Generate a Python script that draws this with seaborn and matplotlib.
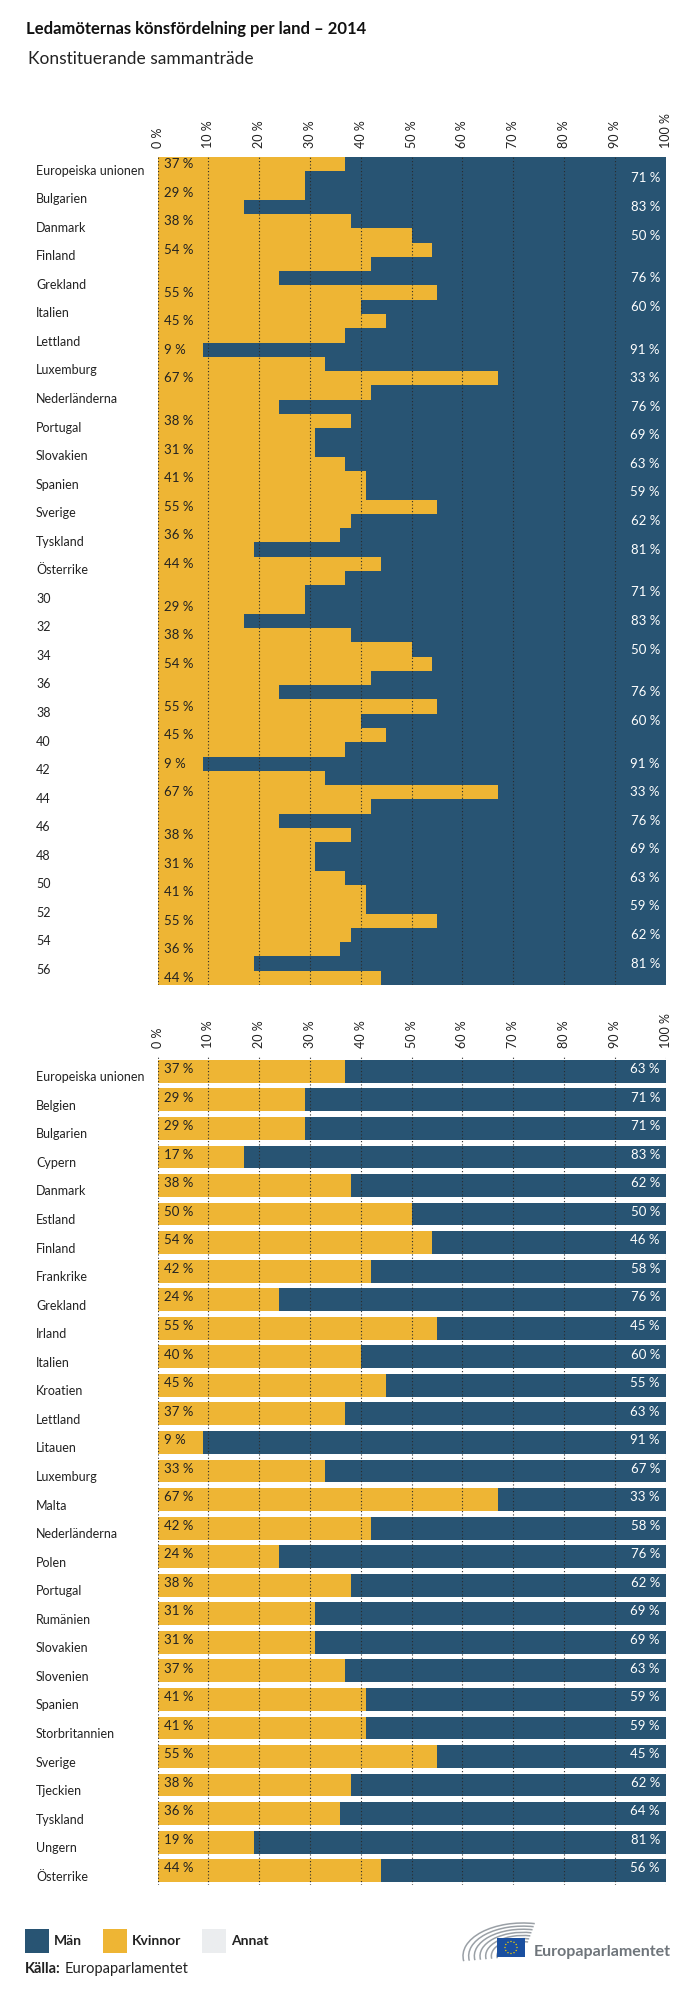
import numpy as np
import pandas as pd
import seaborn as sns
import matplotlib
matplotlib.use("Agg")
import matplotlib.pyplot as plt
from matplotlib.patches import Rectangle, Arc, Circle

# ---- data -------------------------------------------------------------
countries = ["Europeiska unionen", "Belgien", "Bulgarien", "Cypern", "Danmark",
             "Estland", "Finland", "Frankrike", "Grekland", "Irland", "Italien",
             "Kroatien", "Lettland", "Litauen", "Luxemburg", "Malta",
             "Nederländerna", "Polen", "Portugal", "Rumänien", "Slovakien",
             "Slovenien", "Spanien", "Storbritannien", "Sverige", "Tjeckien",
             "Tyskland", "Ungern", "Österrike"]
women = [37, 29, 29, 17, 38, 50, 54, 42, 24, 55, 40, 45, 37, 9, 33, 67, 42, 24,
         38, 31, 31, 37, 41, 41, 55, 38, 36, 19, 44]
men = [63, 71, 71, 83, 62, 50, 46, 58, 76, 45, 60, 55, 63, 91, 67, 33, 58, 76,
       62, 69, 69, 63, 59, 59, 45, 62, 64, 81, 56]
other = [0] * len(countries)

# rows of the upper (constituent session) frame that carry a value label
top_women_rows = [0, 2, 4, 6, 9, 11, 13, 15, 18, 20, 22, 24, 26, 28]
top_men_rows = [1, 3, 5, 8, 10, 13, 15, 17, 19, 21, 23, 25, 27]

BLUE = "#285473"
YELLOW = "#eeb534"
GREY = "#ebedef"
INK = "#222222"

sns.set_style("white")
plt.rcParams["font.family"] = ["Lato", "DejaVu Sans"]

W, H = 700, 1993
fig = plt.figure(figsize=(W / 100, H / 100), dpi=100)


def box(top, bottom, left=157.5, right=665.5):
    return [left / W, 1 - bottom / H, (right - left) / W, (bottom - top) / H]


n = len(countries)
top = pd.DataFrame({"row": countries + [str(i) for i in range(n, 2 * n)],
                    "women": women * 2, "men": men * 2, "other": other * 2})
low = pd.DataFrame({"row": countries, "women": women, "men": men, "other": other})
for df in (top, low):
    df["wm"] = df.women + df.men
    df["total"] = df.wm + df.other


def stacked(ax, df, width):
    for col, c in (("total", GREY), ("wm", BLUE), ("women", YELLOW)):
        sns.barplot(data=df, x=col, y="row", orient="h", color=c, saturation=1,
                    width=width, errorbar=None, linewidth=0, antialiased=False, ax=ax)
    nrows = len(df)
    ax.set_xlim(0, 100)
    ax.set_ylim(nrows - 0.5, -0.5)
    ax.set_xlabel("")
    ax.set_ylabel("")
    ax.xaxis.tick_top()
    ax.set_xticks(range(0, 101, 10))
    ax.set_xticklabels([f"{v} %" for v in range(0, 101, 10)], rotation=90,
                       fontsize=9, color=INK)
    ax.tick_params(axis="x", length=0, pad=6.5, labeltop=True, labelbottom=False)
    ax.set_yticks([])
    ax.grid(axis="x", color="#2b2b2b", linestyle=(0, (1, 2)), linewidth=0.8)
    ax.set_axisbelow(False)
    for s in ax.spines.values():
        s.set_visible(False)


ax1 = fig.add_axes(box(157, 985))
stacked(ax1, top, 1.0)
ax2 = fig.add_axes(box(1057, 1885))
stacked(ax2, low, 0.8)

LBLX = (36 - 157.5) / 508

# upper frame: labels on every other row
t1 = ax1.get_yaxis_transform()
for k in range(0, 2 * n, 2):
    ax1.text(LBLX, k + 0.45, top.row[k], transform=t1, ha="left", va="center",
             fontsize=9, color=INK)
for r in top_women_rows + [r + n for r in top_women_rows if r > 0]:
    ax1.text(1.2, r, f"{top.women[r]} %", ha="left", va="center", fontsize=9.5, color=INK)
for r in top_men_rows + [r + n for r in top_men_rows]:
    ax1.text(98.9, r, f"{top.men[r]} %", ha="right", va="center", fontsize=9.5, color="white")

# lower chart
t2 = ax2.get_yaxis_transform()
for i in range(n):
    ax2.text(LBLX, i + 0.21, countries[i], transform=t2, ha="left", va="center",
             fontsize=9, color=INK)
    ax2.text(1.2, i - 0.08, f"{women[i]} %", ha="left", va="center", fontsize=9.5, color=INK)
    ax2.text(98.9, i - 0.08, f"{men[i]} %", ha="right", va="center", fontsize=9.5, color="white")

# ---- page furniture in pixel coordinates --------------------------------
page = fig.add_axes([0, 0, 1, 1], zorder=-1)
page.set_xlim(0, W)
page.set_ylim(H, 0)
page.axis("off")

page.text(26, 34, "Ledamöternas könsfördelning per land – 2014", fontsize=12,
          fontweight="bold", color="#111111", va="baseline")
page.text(28, 64, "Konstituerande sammanträde", fontsize=12.5, fontweight="normal",
          color="#222222", va="baseline")

fig.canvas.draw()
rend = fig.canvas.get_renderer()
inv = page.transData.inverted()

x = 25
for label, col in (("Män", BLUE), ("Kvinnor", YELLOW), ("Annat", GREY)):
    page.add_patch(Rectangle((x, 1929), 24, 24, color=col, lw=0))
    t = page.text(x + 29, 1941, label, fontsize=10, fontweight="bold", color=INK,
                  va="center")
    bb = t.get_window_extent(rend)
    x = inv.transform((bb.x1, 0))[0] + 21

t = page.text(25, 1973, "Källa:", fontsize=10.5, fontweight="bold", color=INK,
              va="baseline")
bb = t.get_window_extent(rend)
page.text(inv.transform((bb.x1, 0))[0] + 4, 1973, "Europaparlamentet", fontsize=10.5,
          color=INK, va="baseline")

# Europaparlamentet logo
for r in np.linspace(26, 60, 7):
    page.add_patch(Arc((523, 1956), 2 * r, 1.1 * r, theta1=175, theta2=290,
                       color="#9aa0a6", lw=1.1))
page.add_patch(Rectangle((497, 1938), 28, 19, color="#1a4fa0", lw=0))
for a in np.linspace(0, 2 * np.pi, 13)[:-1]:
    page.add_patch(Circle((511 + 6 * np.cos(a), 1947.5 + 6 * np.sin(a)), 0.7,
                          color="#f5d000", lw=0))
page.text(534, 1952, "Europaparlamentet", fontsize=11.5, fontweight="bold",
          color="#6f757b", va="center")

fig.savefig("out.png", dpi=100)
